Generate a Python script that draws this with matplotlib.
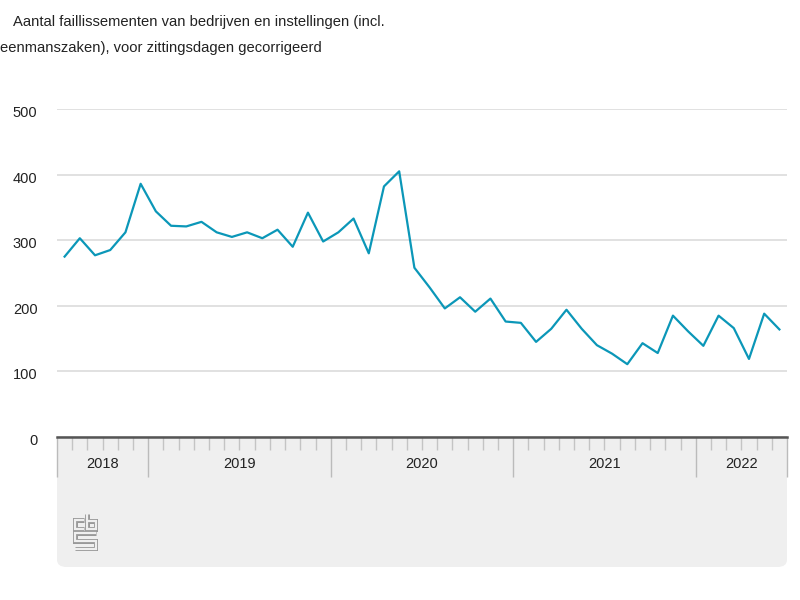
import matplotlib.pyplot as plt
from matplotlib.patches import FancyBboxPatch
from matplotlib.transforms import blended_transform_factory, ScaledTranslation

plt.rcParams["font.family"] = ["Liberation Sans", "DejaVu Sans"]

# maandelijkse reeks, juli 2018 t/m juni 2022
values = [
    275, 303, 277, 285, 312, 386,                                  # 2018
    344, 322, 321, 328, 312, 305, 312, 303, 316, 290, 342, 298,    # 2019
    312, 333, 280, 382, 405, 258, 228, 196, 213, 191, 211, 176,    # 2020
    174, 145, 165, 194, 165, 140, 127, 111, 143, 128, 185, 161,    # 2021
    139, 185, 166, 119, 188, 164,                                  # 2022
]
years = ["2018", "2019", "2020", "2021", "2022"]
months_per_year = [6, 12, 12, 12, 6]
yticks = [0, 100, 200, 300, 400, 500]

title_1 = "Aantal faillissementen van bedrijven en instellingen (incl."
title_2 = "eenmanszaken), voor zittingsdagen gecorrigeerd"

W, H = 800, 600
fig = plt.figure(figsize=(8, 6), dpi=100)


def fx(px):
    return px / W


def fy(py):
    return 1 - py / H


# grijs paneel onder de as
panel = FancyBboxPatch((fx(57), fy(567)), fx(787) - fx(57), fy(420) - fy(567),
                       boxstyle="round,pad=0,rounding_size=0.012",
                       transform=fig.transFigure, facecolor="#efefef",
                       edgecolor="none", zorder=0)
fig.patches.append(panel)

ax = fig.add_axes([fx(57), fy(437), fx(787) - fx(57), fy(109) - fy(437)])
ax.set_zorder(1)
ax.set_facecolor("white")

x = list(range(len(values)))
ax.plot(x, values, color="#0b97b8", lw=1.6, zorder=3)

ax.set_xlim(-0.5, len(values) - 0.5)
ax.set_ylim(0, 500)
ax.set_yticks(yticks)
ax.set_yticklabels([str(v) for v in yticks])
ax.yaxis.grid(True, color="#d9d9d9", lw=1.1)
ax.set_axisbelow(True)
ax.tick_params(axis="y", length=0, pad=14, labelsize=10.5, labelcolor="#222222")
shift = ScaledTranslation(0, -2.5 / 100, fig.dpi_scale_trans)
for lab in ax.get_yticklabels():
    lab.set_transform(lab.get_transform() + shift)

for side in ("left", "right", "top"):
    ax.spines[side].set_visible(False)
ax.spines["bottom"].set_color("#555555")
ax.spines["bottom"].set_linewidth(1.8)
ax.spines["bottom"].set_zorder(4)

# jaargrenzen en maandstreepjes
bounds = [-0.5]
for n in months_per_year:
    bounds.append(bounds[-1] + n)
month_edges = [b + 0.5 for b in range(-1, len(values))]
minor = [m for m in month_edges if m not in bounds]
ax.set_xticks(bounds)
ax.set_xticklabels([])
ax.set_xticks(minor, minor=True)
ax.tick_params(axis="x", which="major", length=29, width=1, color="#bbbbbb")
ax.tick_params(axis="x", which="minor", length=9.5, width=1, color="#c4c4c4")
for t in ax.xaxis.get_major_ticks() + ax.xaxis.get_minor_ticks():
    t.tick1line.set_clip_on(False)

trans = blended_transform_factory(ax.transData, fig.transFigure)
for i, yr in enumerate(years):
    mid = (bounds[i] + bounds[i + 1]) / 2
    ax.text(mid, fy(464), yr, transform=trans, ha="center", va="center",
            fontsize=10.5, color="#222222")

# titel
fig.text(fx(13), fy(22), title_1, ha="left", va="center", fontsize=10.6, color="#222222")
fig.text(fx(0), fy(48), title_2, ha="left", va="center", fontsize=10.6, color="#222222")

# cbs-logo, vereenvoudigd
lax = fig.add_axes([fx(72), fy(551), fx(98) - fx(72), fy(512) - fy(551)])
lax.set_zorder(2)
lax.set_xlim(-1.5, 25.5)
lax.set_ylim(39, -1)
lax.axis("off")
strokes = [
    ([11, 1.5, 1.5, 11], [7.5, 7.5, 16.5, 16.5]),
    ([14.5, 14.5, 23.5, 23.5, 14.5], [1, 16.5, 16.5, 8, 8]),
    ([23.5, 1.5, 1.5, 23.5, 23.5, 1.5], [21, 21, 29, 29, 37, 37]),
]
for xs, ys in strokes:
    lax.plot(xs, ys, color="#999999", lw=3.6, solid_joinstyle="miter", solid_capstyle="butt")
    lax.plot(xs, ys, color="#efefef", lw=1.6, solid_joinstyle="miter", solid_capstyle="butt")

fig.savefig("out.png", dpi=100)
